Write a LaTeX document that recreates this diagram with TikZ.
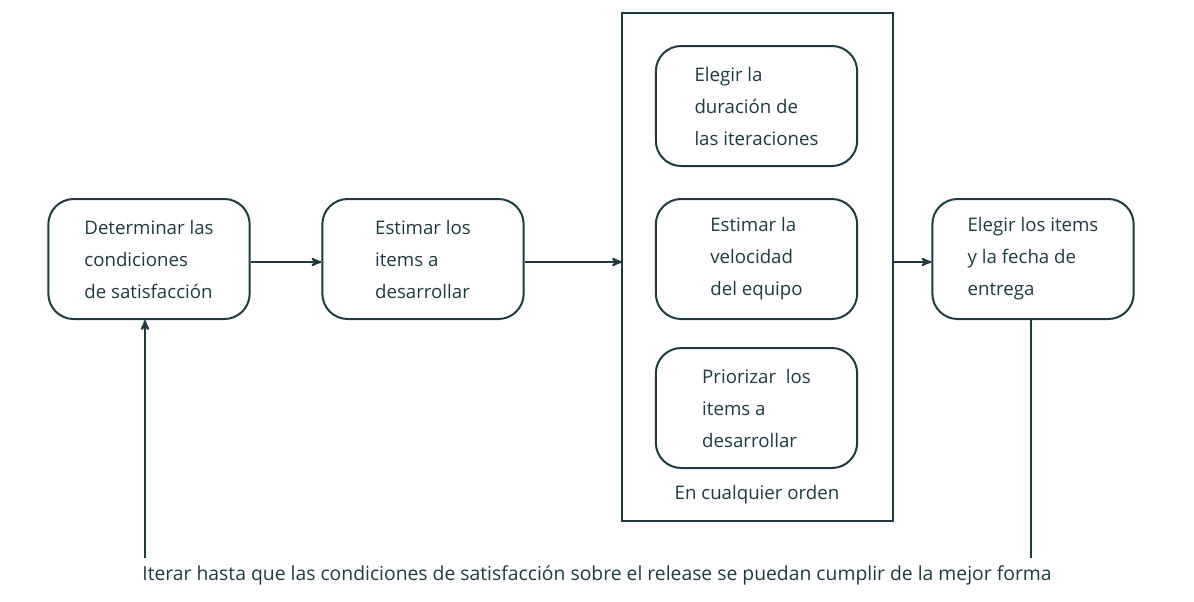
\documentclass[tikz,border=0pt]{standalone}
\usepackage{fontspec}
\setmainfont{Open Sans}
\usetikzlibrary{positioning, arrows}
\definecolor{ink}{HTML}{1D3B40}

\begin{document}
\begin{tikzpicture}[
  x=0.75pt, y=-0.75pt,
  ink, line width=1.5pt,
  stepbox/.style={draw, rounded corners=19pt, minimum width=151pt, minimum height=90pt,
    align=left, font=\fontsize{14}{24}\selectfont},
  flow/.style={->, >=stealth'}]
  \useasboundingbox (0,0) rectangle (1194,601);

  \draw (622,13) rectangle (893,521);

  \node[stepbox] (cond) at (149,259) {Determinar las\\condiciones\\ de satisfacción};
  \node[stepbox] (est) at (423,259) {Estimar los\\items a\\desarrollar};
  \node[stepbox] (dur) at (756.5,106) {Elegir la\\duración de\\las iteraciones};
  \node[stepbox] (vel) at (756.5,259) {Estimar la\\velocidad\\del equipo};
  \node[stepbox] (prio) at (756.5,408) {Priorizar\ \ los\\items a\\desarrollar};
  \node[stepbox] (elegir) at (1033,259) {Elegir los items\\y la fecha de\\entrega};

  \node[font=\fontsize{14}{16}\selectfont] (orden) at (757,495) {En cualquier orden};
  \node[font=\fontsize{14.5}{16}\selectfont] (iterar) at (597,575)
    {Iterar hasta que las condiciones de satisfacción sobre el release se puedan cumplir de la mejor forma};

  \coordinate (frameL) at (622,262);
  \coordinate (frameR) at (893,262);
  \coordinate (loopL) at (145,558);
  \coordinate (loopR) at (1031,558);

  \draw[flow] (cond.east |- frameL) -- (est.west |- frameL);
  \draw[flow] (est.east |- frameL) -- (frameL);
  \draw[flow] (frameR) -- (elegir.west |- frameR);
  \draw[flow] (loopL) -- (loopL |- cond.south);
  \draw (loopR |- elegir.south) -- (loopR);
\end{tikzpicture}
\end{document}
